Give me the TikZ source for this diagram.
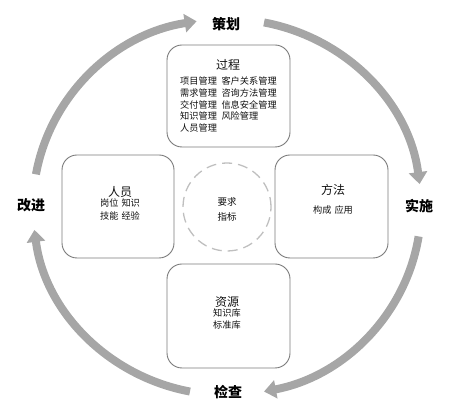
\documentclass[tikz,border=0pt]{standalone}
\usepackage{fontspec}
\setmainfont{Noto Sans CJK SC}
\usetikzlibrary{arrows.meta}
\definecolor{arcgray}{HTML}{A6A6A6}
\definecolor{boxgray}{HTML}{7A7A7A}
\definecolor{dashgray}{HTML}{BFBFBF}
\definecolor{txt}{HTML}{111111}
\begin{document}
\begin{tikzpicture}[x=1pt,y=1pt,
  cyc/.style={draw=arcgray, line width=8pt, -{Triangle[width=18pt,length=12pt]}},
  box/.style={draw=boxgray, line width=0.9pt, rounded corners=15pt, inner sep=0pt},
  ttl/.style={text=txt, inner sep=0pt, font=\fontsize{12}{14}\selectfont},
  sml/.style={text=txt, inner sep=0pt, align=center, font=\fontsize{9.2}{12.5}\selectfont},
  phase/.style={text=black, inner sep=0pt, font=\fontsize{14}{16}\selectfont\bfseries}]
\useasboundingbox (0,0) rectangle (452,414);
\coordinate (C) at (227,207);
% cycle arrows
\draw[cyc] ([shift={(170:194 and 188)}]C) arc[start angle=170, end angle=99, x radius=194, y radius=188];
\draw[cyc] ([shift={(79:194 and 188)}]C) arc[start angle=79, end angle=7, x radius=194, y radius=188];
\draw[cyc] ([shift={(-9:194 and 188)}]C) arc[start angle=-9, end angle=-79, x radius=194, y radius=188];
\draw[cyc] ([shift={(-101:194 and 188)}]C) arc[start angle=-101, end angle=-173, x radius=194, y radius=188];
% phase labels
\node[phase] (plan) at (226,390) {策划};
\node[phase] (do) at (419,208) {实施};
\node[phase] (check) at (228,22) {检查};
\node[phase] (act) at (31,209) {改进};
% boxes
\node[box, minimum width=123pt, minimum height=102pt] (proc) at (228.5,318) {};
\node[box, minimum width=112pt, minimum height=103pt] (ppl) at (118,207.5) {};
\node[box, minimum width=113pt, minimum height=103pt] (meth) at (331.5,207.5) {};
\node[box, minimum width=123pt, minimum height=104pt] (res) at (228.5,98) {};
\node[draw=dashgray, line width=1.3pt, dash pattern=on 10pt off 6pt, circle, minimum size=88pt, inner sep=0pt] (core) at (227,207) {};
% texts
\node[ttl] (procT) at (228,349) {过程};
\node[sml, align=left, anchor=west, font=\fontsize{9.2}{11.9}\selectfont] (procL) at (180,309.5) {项目管理\hspace{4.5pt}客户关系管理\\需求管理\hspace{4.5pt}咨询方法管理\\交付管理\hspace{4.5pt}信息安全管理\\知识管理\hspace{4.5pt}风险管理\\人员管理};
\node[ttl] (pplT) at (120,222) {人员};
\node[sml] (pplL) at (120,204.5) {岗位\hspace{3pt}知识\\技能\hspace{3pt}经验};
\node[ttl] (methT) at (333,224) {方法};
\node[sml] (methL) at (333,204) {构成\hspace{3pt}应用};
\node[ttl] (resT) at (227,112) {资源};
\node[sml] (resL) at (227,95) {知识库\\标准库};
\node[sml, font=\fontsize{9.5}{15}\selectfont] (coreL) at (227,204.5) {要求\\指标};
\end{tikzpicture}
\end{document}
